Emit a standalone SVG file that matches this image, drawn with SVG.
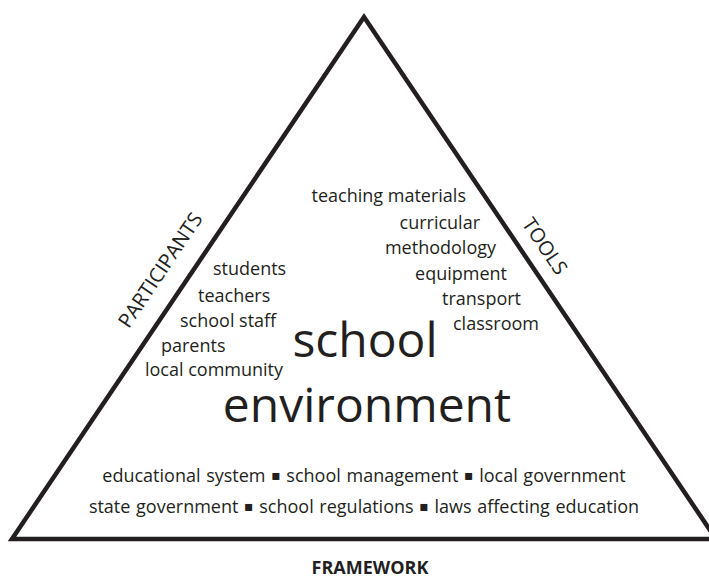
<svg xmlns="http://www.w3.org/2000/svg" width="709" height="580" viewBox="0 0 709 580">
<style>
text{font-family:"Open Sans","Noto Sans","DejaVu Sans",sans-serif;fill:#231f20}
.s{font-size:18px}
.b{font-size:48px}
.lab{font-size:20px}
.fw{font-size:18px;font-weight:bold}
.dot{font-size:14px;font-family:"DejaVu Sans",sans-serif}
.tri{fill:none;stroke:#231f20;stroke-width:4.5;stroke-linejoin:miter}
</style>
<rect width="709" height="580" fill="#ffffff"/>
<g id="connectors">
<polygon class="tri" points="12,539 364,17 716,539"/>
</g>
<g id="participants-label"><text class="lab" transform="translate(166,274) rotate(-56)" text-anchor="middle">PARTICIPANTS</text></g>
<g id="tools-label"><text class="lab" transform="translate(539,250) rotate(56)" text-anchor="middle">TOOLS</text></g>
<g id="framework-label"><text class="fw" x="370" y="574" text-anchor="middle">FRAMEWORK</text></g>
<g id="tools">
<text class="s" x="466" y="202" text-anchor="end">teaching materials</text>
<text class="s" x="480" y="229" text-anchor="end">curricular</text>
<text class="s" x="496" y="254" text-anchor="end">methodology</text>
<text class="s" x="507" y="280" text-anchor="end">equipment</text>
<text class="s" x="521" y="305" text-anchor="end">transport</text>
<text class="s" x="539" y="330" text-anchor="end">classroom</text>
</g>
<g id="participants">
<text class="s" x="213" y="275">students</text>
<text class="s" x="198" y="302">teachers</text>
<text class="s" x="180" y="327">school staff</text>
<text class="s" x="161" y="352">parents</text>
<text class="s" x="145" y="376">local community</text>
</g>
<g id="center">
<text class="b" x="365" y="357" text-anchor="middle">school</text>
<text class="b" x="367" y="422" text-anchor="middle">environment</text>
</g>
<g id="framework">
<text class="s" x="364" y="482" text-anchor="middle" word-spacing="1">educational system <tspan class="dot" dy="-2">▪</tspan><tspan dy="2"> school management </tspan><tspan class="dot" dy="-2">▪</tspan><tspan dy="2"> local government</tspan></text>
<text class="s" x="364" y="513" text-anchor="middle" word-spacing="1">state government <tspan class="dot" dy="-2">▪</tspan><tspan dy="2"> school regulations </tspan><tspan class="dot" dy="-2">▪</tspan><tspan dy="2"> laws affecting education</tspan></text>
</g>
</svg>
